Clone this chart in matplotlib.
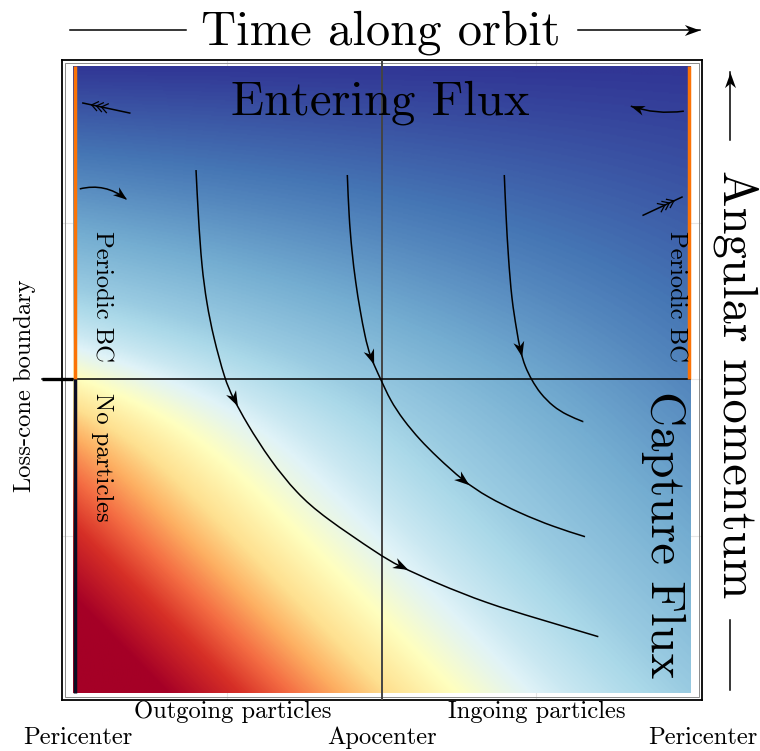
import numpy as np
import matplotlib
matplotlib.use("Agg")
import matplotlib.pyplot as plt
from matplotlib.path import Path
from matplotlib.patches import PathPatch, Rectangle
from matplotlib.markers import MarkerStyle
from matplotlib.transforms import Affine2D

plt.rcParams["font.family"] = "cmr10"
plt.rcParams["mathtext.fontset"] = "cm"
plt.rcParams["axes.formatter.use_mathtext"] = True

# colour level of the background versus u = time + momentum (+ boost near the top)
shade_u = [0.15, 0.27, 0.43, 0.51, 0.62, 0.70, 0.80, 0.90, 1.00, 1.25, 1.50, 2.00]
shade_v = [0.00, 0.10, 0.30, 0.40, 0.50, 0.57, 0.64, 0.69, 0.73, 0.80, 0.87, 1.00]

# flow lines (time along orbit, angular momentum), arrow heads at given indices
curve_a_x = [0.1994, 0.2031, 0.2086, 0.2167, 0.2274, 0.2464, 0.2585, 0.2815, 0.3193,
             0.3626, 0.4057, 0.4976, 0.5246, 0.5895, 0.6705, 0.7515, 0.8514]
curve_a_y = [0.8341, 0.7597, 0.6799, 0.6215, 0.5683, 0.4992, 0.4721, 0.4301, 0.3716,
             0.3185, 0.2812, 0.2201, 0.2041, 0.1750, 0.1431, 0.1191, 0.0898]
curve_a_heads = [6, 12]
curve_b_x = [0.4446, 0.4473, 0.4517, 0.4582, 0.4652, 0.4733, 0.4814, 0.4990, 0.5138,
             0.5353, 0.5624, 0.5895, 0.6326, 0.6705, 0.7245, 0.7784, 0.8298]
curve_b_y = [0.8262, 0.7596, 0.7065, 0.6534, 0.6108, 0.5683, 0.5364, 0.5000, 0.4673,
             0.4354, 0.4035, 0.3769, 0.3381, 0.3131, 0.2866, 0.2652, 0.2493]
curve_b_heads = [6, 12]
curve_c_x = [0.6990, 0.7018, 0.7055, 0.7110, 0.7191, 0.7245, 0.7326, 0.7434, 0.7569,
             0.7784, 0.8001, 0.8270]
curve_c_y = [0.8262, 0.7596, 0.6959, 0.6268, 0.5789, 0.5470, 0.5204, 0.4992, 0.4780,
             0.4566, 0.4434, 0.4327]
curve_c_heads = [5]

loss_cone = 0.5
apocenter = 0.5

STEALTH = Path([(0.5, 0.0), (-0.5, 0.36), (-0.2, 0.0), (-0.5, -0.36), (0.5, 0.0)],
               [Path.MOVETO, Path.LINETO, Path.LINETO, Path.LINETO, Path.CLOSEPOLY])


def head(axis, x, y, ux, uy, size=11, at_tip=False):
    # stealth arrow head at (x, y) pointing along (ux, uy), rotated in screen space
    p = axis.transData.transform([(x, y), (x + ux, y + uy)])
    d = p[1] - p[0]
    d = d / np.hypot(*d)
    if at_tip:
        c = p[0] - d * size * fig.dpi / 72 / 2
        x, y = axis.transData.inverted().transform(c)
    ang = np.degrees(np.arctan2(d[1], d[0]))
    m = MarkerStyle(STEALTH, transform=Affine2D().rotate_deg(ang))
    axis.plot([x], [y], marker=m, ms=size, color="k", mew=0, zorder=7, clip_on=False)


def bspline_path(xs, ys):
    # clamped cubic B-spline on the given points, written as Bezier pieces
    P = np.column_stack([xs, ys])
    Q = np.vstack([P[0], P[0], P, P[-1], P[-1]])
    verts, codes = [P[0]], [Path.MOVETO]
    for i in range(len(Q) - 3):
        a, b, c, d = Q[i:i + 4]
        verts += [(2 * b + c) / 3, (b + 2 * c) / 3, (b + 4 * c + d) / 6]
        codes += [Path.CURVE4] * 3
    return Path(verts, codes)


def flow_line(axis, xs, ys, heads):
    axis.add_patch(PathPatch(bspline_path(xs, ys), facecolor="none", edgecolor="k", lw=1.1, zorder=6))
    P = np.column_stack([xs, ys])
    for i in heads:
        on = (P[i - 1] + 4 * P[i] + P[i + 1]) / 6
        dv = P[i + 1] - P[i - 1]
        head(axis, on[0], on[1], dv[0], dv[1])


def curved_arrow(axis, start, ctrl, end, size=10):
    p = Path([start, ctrl, end], [Path.MOVETO, Path.CURVE3, Path.CURVE3])
    axis.add_patch(PathPatch(p, facecolor="none", edgecolor="k", lw=1.1, zorder=6, clip_on=False))
    head(axis, end[0], end[1], end[0] - ctrl[0], end[1] - ctrl[1], size=size, at_tip=True)


def fletched(axis, inner, outer):
    # arrow tail with three feathers near the outer end
    axis.plot([inner[0], outer[0]], [inner[1], outer[1]], color="k", lw=1.1, zorder=6, clip_on=False)
    p0, p1 = axis.transData.transform([inner, outer])
    u = (p1 - p0) / np.hypot(*(p1 - p0))
    n = np.array([-u[1], u[0]])
    inv = axis.transData.inverted()
    for dist in (9, 14, 19):
        apex = p1 - u * dist
        for s in (1, -1):
            seg = inv.transform([apex, apex - u * 6 + n * s * 4.5])
            axis.plot(seg[:, 0], seg[:, 1], color="k", lw=0.9, zorder=6, clip_on=False)


fig = plt.figure(figsize=(7.6, 7.51), dpi=100)
ax = fig.add_axes([62 / 760, 51 / 751, 640 / 760, 640 / 751])
ax.set_xlim(-0.0178, 1.0194)
ax.set_ylim(-0.0112, 1.0096)

# background shading
g = np.linspace(0, 1, 500)
X, Y = np.meshgrid(g, g)
U = X + Y + 1.8 * 0.04 * np.logaddexp(0, (Y - 0.45) / 0.04) * (1 - X)
V = np.interp(U, shade_u, shade_v)
ax.imshow(V, cmap="RdYlBu", vmin=0, vmax=1, origin="lower", extent=(0, 1, 0, 1),
          aspect="auto", interpolation="bilinear", zorder=1)

ax.set_xticks([0.25, 0.5, 0.75])
ax.set_yticks([0.25, 0.5, 0.75])
ax.grid(color="#e6e6e6", lw=0.8)
ax.set_axisbelow(True)
ax.tick_params(length=0, labelbottom=False, labelleft=False)
for sp in ax.spines.values():
    sp.set_linewidth(1.3)
ax.add_patch(Rectangle((3 / 640, 3 / 640), 1 - 6 / 640, 1 - 6 / 640, transform=ax.transAxes,
                       fill=False, ec="#8a8a8a", lw=0.7, zorder=2))

# apocenter and loss-cone boundary
ax.axvline(apocenter, color="#444444", lw=1.4, zorder=3)
ax.plot([-0.05, 1.0], [loss_cone, loss_cone], color="k", lw=1.1, zorder=3, clip_on=False)
ax.plot([-0.05, 0.0], [loss_cone, loss_cone], color="k", lw=2.4, zorder=3, clip_on=False,
        solid_capstyle="butt")

# boundary conditions along pericenter
ax.plot([0.003, 0.003], [loss_cone, 1.0], color="#fb7306", lw=2.5, solid_capstyle="butt", zorder=4)
ax.plot([0.998, 0.998], [loss_cone, 1.0], color="#fb7306", lw=2.5, solid_capstyle="butt", zorder=4)
ax.plot([0.003, 0.003], [0.0, loss_cone], color="#0c0c22", lw=2.5, solid_capstyle="butt", zorder=4)

flow_line(ax, curve_a_x, curve_a_y, curve_a_heads)
flow_line(ax, curve_b_x, curve_b_y, curve_b_heads)
flow_line(ax, curve_c_x, curve_c_y, curve_c_heads)

# periodic boundary illustration
fletched(ax, (0.092, 0.925), (0.016, 0.941))
curved_arrow(ax, (0.990, 0.928), (0.945, 0.922), (0.904, 0.936))
curved_arrow(ax, (0.011, 0.804), (0.052, 0.814), (0.086, 0.788))
fletched(ax, (0.924, 0.762), (0.987, 0.791))

big, small = 35, 17.7
ax.text(0.4976, 0.941, "Entering Flux", fontsize=big, ha="center", va="center", zorder=8)
ax.text(0.956, 0.252, "Capture Flux", fontsize=big, rotation=-90, ha="center", va="center", zorder=8)
ax.text(0.047, 0.632, "Periodic BC", fontsize=small, rotation=-90, ha="center", va="center", zorder=8)
ax.text(0.976, 0.633, "Periodic BC", fontsize=small, rotation=-90, ha="center", va="center", zorder=8)
ax.text(0.047, 0.375, "No particles", fontsize=small, rotation=-90, ha="center", va="center", zorder=8)

# labels around the frame, in pixel units of the figure
ov = fig.add_axes([0, 0, 1, 1])
ov.set_xlim(0, 760)
ov.set_ylim(751, 0)
ov.axis("off")

ov.text(381, 33, "Time along orbit", fontsize=big, ha="center", va="center")
ov.plot([70, 186], [30, 30], color="k", lw=1.1)
ov.plot([578, 700], [30, 30], color="k", lw=1.1)
head(ov, 700, 30, 1, 0, size=11, at_tip=True)

ov.text(736, 384, "Angular momentum", fontsize=big, rotation=-90, ha="center", va="center")
ov.plot([730, 730], [140, 72], color="k", lw=1.1)
head(ov, 730, 72, 0, -1, size=11, at_tip=True)
ov.plot([730, 730], [620, 690], color="k", lw=1.1)

ov.text(25, 386, "Loss-cone boundary", fontsize=small, rotation=90, ha="center", va="center")
ov.text(233, 712, "Outgoing particles", fontsize=small, ha="center", va="center")
ov.text(537, 712, "Ingoing particles", fontsize=small, ha="center", va="center")
ov.text(78, 738, "Pericenter", fontsize=small, ha="center", va="center")
ov.text(382, 738, "Apocenter", fontsize=small, ha="center", va="center")
ov.text(703, 738, "Pericenter", fontsize=small, ha="center", va="center")

fig.savefig("out.png", dpi=100)
